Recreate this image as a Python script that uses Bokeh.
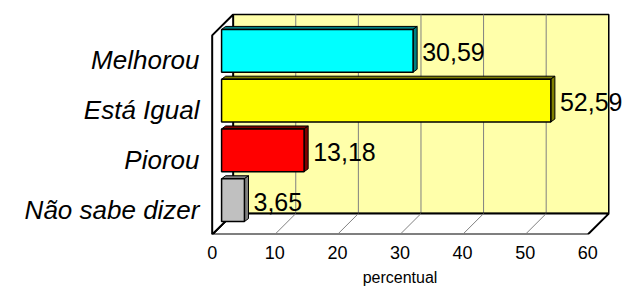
from bokeh.plotting import figure
from bokeh.models import Range1d, LinearAxis, FixedTicker, ColumnDataSource
from bokeh.core.properties import value
from bokeh.embed import file_html
from bokeh.resources import INLINE

# ---- data (bottom to top) ----
categories = ["Não sabe dizer", "Piorou", "Está Igual", "Melhorou"]
values = [3.65, 13.18, 52.59, 30.59]
value_labels = ["3,65", "13,18", "52,59", "30,59"]
x_ticks = [0, 10, 20, 30, 40, 50, 60]
x_title = "percentual"

# ---- styles ----
front_colors = ["#C0C0C0", "#FF0000", "#FFFF00", "#00FFFF"]
shade_colors = ["#808080", "#800000", "#808000", "#008080"]
FONT = "Liberation Sans"
WALL_COLOR = "#FFFFAA"
X_MAX = x_ticks[-1]
DX, DY = 3.35, 0.42        # depth of the 3D box (data units)
BX, BY = 1.5, 0.19         # bar plane offset from the front plane
TX, TY = 0.65, 0.06        # bar thickness (3D)
BAR_H = 0.86
Y0 = -0.5                  # floor (front)
YT = len(categories) - 0.5 # top (front)

p = figure(width=628, height=288,
           x_range=Range1d(-0.27, 66.5), y_range=Range1d(Y0, 4.04),
           x_axis_type=None, y_axis_type=None,
           toolbar_location=None, output_backend="svg",
           min_border_left=210, min_border_right=0,
           min_border_top=8, min_border_bottom=53)
p.outline_line_color = None
p.background_fill_color = "white"
p.border_fill_color = "white"

# back wall
p.quad(left=[DX], right=[X_MAX + DX], bottom=[Y0 + DY], top=[YT + DY],
       fill_color=WALL_COLOR, line_color="black", line_width=1.5)
# gridlines on back wall
inner = x_ticks[1:-1]
p.multi_line(xs=[[t + DX, t + DX] for t in inner],
             ys=[[Y0 + DY, YT + DY] for t in inner],
             line_color="#808080", line_width=1)
# floor
p.patch(x=[0, X_MAX, X_MAX + DX, DX], y=[Y0, Y0, Y0 + DY, Y0 + DY],
        fill_color="white", line_color="black", line_width=2)
p.multi_line(xs=[[t, t + DX] for t in inner],
             ys=[[Y0, Y0 + DY] for t in inner],
             line_color="#808080", line_width=1)
# left wall
p.patch(x=[0, DX, DX, 0], y=[Y0, Y0 + DY, YT + DY, YT],
        fill_color="white", line_color="black", line_width=2)

# bars
ypos = list(range(len(categories)))
yc = [y + BY for y in ypos]
x0 = [BX for v in values]
x1 = [BX + v for v in values]
yb = [c - BAR_H / 2 for c in yc]
yt = [c + BAR_H / 2 for c in yc]

top_xs = [[a, a + TX, b + TX, b] for a, b in zip(x0, x1)]
top_ys = [[t, t + TY, t + TY, t] for t in yt]
side_xs = [[b, b + TX, b + TX, b] for b in x1]
side_ys = [[lo, lo + TY, hi + TY, hi] for lo, hi in zip(yb, yt)]

p.patches(xs=top_xs, ys=top_ys, fill_color=shade_colors, line_color="black", line_width=1)
p.patches(xs=side_xs, ys=side_ys, fill_color=shade_colors, line_color="black", line_width=1)
src = ColumnDataSource(dict(left=x0, right=x1, bottom=yb, top=yt, color=front_colors))
p.quad(left="left", right="right", bottom="bottom", top="top", fill_color="color",
       line_color="black", line_width=1.5, source=src)

# value labels
p.text(x=[b + 1.45 for b in x1], y=[c - 0.03 for c in yc], text=value_labels,
       text_font=value(FONT), text_font_size="25px", text_color="black",
       text_align="left", text_baseline="middle")

# axes
def bare_axis(axis):
    axis.axis_line_color = None
    axis.major_tick_line_color = None
    axis.minor_tick_line_color = None
    axis.major_tick_out = 0
    axis.major_tick_in = 0
    axis.major_label_text_font = FONT
    axis.major_label_text_color = "black"
    return axis

xaxis = bare_axis(LinearAxis(ticker=FixedTicker(ticks=x_ticks)))
xaxis.major_label_standoff = 11
xaxis.major_label_text_font_size = "18px"
p.add_layout(xaxis, "below")

# axis title, centred under the middle of the 0-60 scale
mid = X_MAX / 2
title_axis = bare_axis(LinearAxis(ticker=FixedTicker(ticks=[mid]),
                                  major_label_overrides={mid: x_title}))
title_axis.major_label_standoff = 7
title_axis.major_label_text_font_size = "16px"
p.add_layout(title_axis, "below")

yaxis = bare_axis(LinearAxis(ticker=FixedTicker(ticks=ypos),
                             major_label_overrides={i: c for i, c in zip(ypos, categories)}))
yaxis.major_label_standoff = 11
yaxis.major_label_text_font_style = "italic"
yaxis.major_label_text_font_size = "26px"
p.add_layout(yaxis, "left")

open("out.html", "w").write(file_html(p, INLINE))
